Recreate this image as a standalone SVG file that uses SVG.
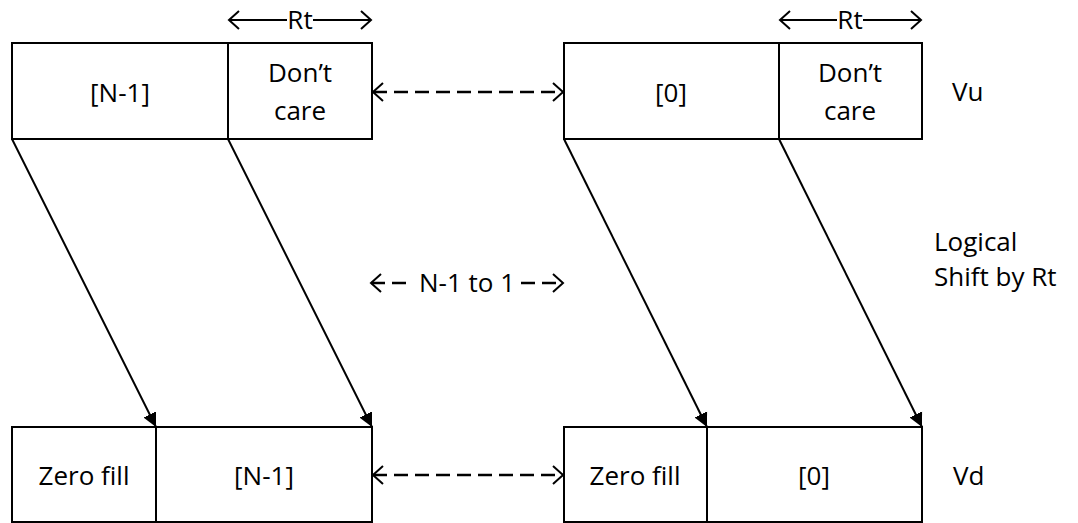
<svg xmlns="http://www.w3.org/2000/svg" width="1078" height="523" viewBox="0 0 1078 523">
<style>
.box{fill:#fff;stroke:#000;stroke-width:2}
.t{font-family:"Open Sans","Liberation Sans",sans-serif;font-size:26px;fill:#000;text-anchor:middle}
.tl{font-family:"Open Sans","Liberation Sans",sans-serif;font-size:26px;fill:#000}
.ln{stroke:#000;stroke-width:2;fill:none}
.dash{stroke:#000;stroke-width:2.5;fill:none;stroke-dasharray:14 7}
</style>
<defs>
<marker id="fill" markerWidth="14" markerHeight="16" viewBox="0 0 14 16" refX="14" refY="8" orient="auto" markerUnits="userSpaceOnUse">
<path d="M0,1 L14,8 L0,15 Z" fill="#000"/>
</marker>
<marker id="open" markerWidth="14" markerHeight="20" viewBox="0 0 14 20" refX="12" refY="10" orient="auto-start-reverse" markerUnits="userSpaceOnUse">
<path d="M2,1 L12,10 L2,19" fill="none" stroke="#000" stroke-width="2"/>
</marker>
</defs>
<g id="vu-left">
<rect class="box" x="12" y="43" width="216" height="96"/>
<rect class="box" x="228" y="43" width="144" height="96"/>
<text class="t" x="120" y="102">[N-1]</text>
<text class="t" x="300" y="82">Don’t</text>
<text class="t" x="300" y="120">care</text>
</g>
<g id="vu-right">
<rect class="box" x="564" y="43" width="215" height="96"/>
<rect class="box" x="779" y="43" width="143" height="96"/>
<text class="t" x="671" y="102">[0]</text>
<text class="t" x="850" y="82">Don’t</text>
<text class="t" x="850" y="120">care</text>
</g>
<g id="vd-left">
<rect class="box" x="12" y="427" width="144" height="95"/>
<rect class="box" x="156" y="427" width="216" height="95"/>
<text class="t" x="84" y="485">Zero fill</text>
<text class="t" x="264" y="485">[N-1]</text>
</g>
<g id="vd-right">
<rect class="box" x="564" y="427" width="143" height="95"/>
<rect class="box" x="707" y="427" width="215" height="95"/>
<text class="t" x="635" y="485">Zero fill</text>
<text class="t" x="814" y="485">[0]</text>
</g>
<g id="labels">
<text class="tl" x="952" y="101">Vu</text>
<text class="tl" x="953" y="485">Vd</text>
<text class="tl" x="934" y="251">Logical</text>
<text class="tl" x="934" y="286">Shift by Rt</text>
<text class="t" x="300" y="29">Rt</text>
<text class="t" x="850" y="29">Rt</text>
<text class="t" x="467" y="292">N-1 to 1</text>
</g>
<g id="connectors">
<line class="ln" x1="287" y1="20" x2="229" y2="20" marker-end="url(#open)"/>
<line class="ln" x1="313" y1="20" x2="371" y2="20" marker-end="url(#open)"/>
<line class="ln" x1="837" y1="20" x2="780" y2="20" marker-end="url(#open)"/>
<line class="ln" x1="863" y1="20" x2="921" y2="20" marker-end="url(#open)"/>
<line class="dash" x1="373" y1="92" x2="563" y2="92" marker-start="url(#open)" marker-end="url(#open)"/>
<line class="dash" x1="373" y1="475" x2="563" y2="475" marker-start="url(#open)" marker-end="url(#open)"/>
<line class="dash" x1="371" y1="283" x2="413" y2="283" marker-start="url(#open)"/>
<line class="dash" x1="521" y1="283" x2="563" y2="283" marker-end="url(#open)"/>
<line class="ln" x1="12" y1="139" x2="156" y2="427" marker-end="url(#fill)"/>
<line class="ln" x1="228" y1="139" x2="372" y2="427" marker-end="url(#fill)"/>
<line class="ln" x1="564" y1="139" x2="707" y2="427" marker-end="url(#fill)"/>
<line class="ln" x1="779" y1="139" x2="922" y2="427" marker-end="url(#fill)"/>
</g>
</svg>
